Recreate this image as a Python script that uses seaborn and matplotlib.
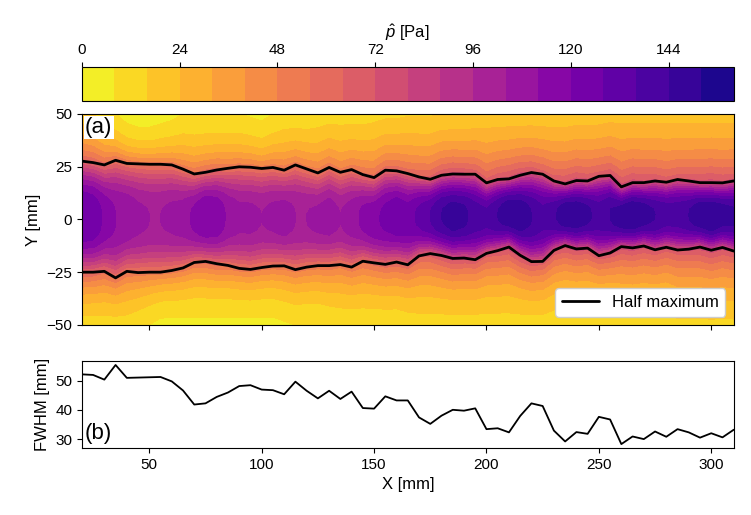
import numpy as np
import pandas as pd
import matplotlib
matplotlib.use("Agg")
import matplotlib.pyplot as plt
import seaborn as sns

sns.set_style("ticks")
plt.rcParams['font.family'] = ['Liberation Sans', 'DejaVu Sans']
plt.rcParams['mathtext.fontset'] = 'custom'
plt.rcParams['mathtext.it'] = 'Liberation Sans:italic'
plt.rcParams['mathtext.rm'] = 'Liberation Sans'
for key in ['text.color', 'axes.labelcolor', 'xtick.color', 'ytick.color', 'axes.edgecolor']:
    plt.rcParams[key] = 'black'

# streamwise stations [mm]
x_mm = np.arange(20, 311, 5)

# half-maximum boundaries of the jet [mm]
upper = [27.6, 26.9, 25.8, 28.0, 26.5, 26.3, 26.1, 26.1, 25.8, 23.8, 21.5, 22.3, 23.4, 24.2, 24.9,
         24.7, 24.1, 24.6, 23.3, 25.8, 23.9, 22.0, 24.6, 22.3, 23.6, 21.2, 19.8, 23.3, 23.0, 21.7,
         20.1, 19.0, 20.9, 21.5, 21.4, 21.4, 17.3, 18.9, 19.2, 20.9, 22.2, 21.4, 18.2, 16.8, 18.4,
         18.2, 20.4, 20.8, 15.4, 17.4, 17.4, 18.2, 17.6, 18.9, 18.2, 17.4, 17.4, 17.3, 18.2]
lower = [-25.0, -25.0, -24.6, -27.7, -24.6, -25.2, -25.0, -25.0, -24.2, -23.0, -20.4, -19.9, -21.0, -21.8, -23.2,
         -23.7, -22.8, -22.1, -22.0, -23.8, -22.6, -21.9, -21.9, -21.4, -22.6, -19.8, -20.6, -21.3, -20.2, -21.5,
         -17.3, -16.2, -17.1, -18.5, -18.3, -19.1, -16.1, -14.8, -13.1, -17.0, -20.0, -19.9, -14.7, -12.4, -14.0,
         -13.6, -17.2, -15.9, -12.9, -13.5, -12.6, -14.4, -13.2, -14.5, -14.1, -13.1, -14.6, -13.3, -15.0]

# full width at half maximum [mm], panel (b)
fwhm = [52.1, 51.9, 50.3, 55.3, 50.9, 51.0, 51.1, 51.2, 49.7, 46.6, 41.8, 42.2, 44.4, 45.9, 48.1,
        48.4, 46.9, 46.7, 45.3, 49.6, 46.5, 43.9, 46.5, 43.7, 46.2, 40.6, 40.4, 44.6, 43.2, 43.2,
        37.4, 35.2, 38.0, 40.0, 39.7, 40.5, 33.4, 33.7, 32.3, 37.9, 42.2, 41.3, 32.9, 29.2, 32.4,
        31.8, 37.6, 36.7, 28.3, 30.9, 30.0, 32.6, 30.8, 33.4, 32.3, 30.5, 32.0, 30.6, 33.2]

# pressure amplitude on the jet axis and at the two walls [Pa]
peak = [128, 126, 118, 112, 110, 106, 104, 104, 106, 108, 114, 120, 118, 110, 106,
        106, 104, 106, 108, 104, 104, 106, 108, 104, 108, 114, 118, 122, 126, 124,
        130, 136, 144, 148, 146, 140, 138, 144, 150, 150, 144, 138, 142, 150, 150,
        146, 140, 144, 150, 152, 148, 144, 140, 140, 144, 150, 152, 148, 146]
edge_top = [18, 16, 12, 8, 5, 4, 4, 5, 6, 8, 8, 8, 8, 8, 8,
            7, 6, 8, 10, 10, 10, 11, 12, 12, 12, 12, 13, 14, 14, 15,
            15, 15, 16, 16, 16, 17, 18, 18, 18, 18, 18, 18, 18, 18, 19,
            19, 19, 20, 20, 20, 20, 20, 20, 20, 20, 20, 20, 20, 20]
edge_bot = [12, 12, 12, 12, 12, 10, 8, 6, 6, 6, 6, 6, 6, 6, 6,
            6, 6, 6, 7, 8, 8, 8, 9, 10, 10, 10, 10, 10, 10, 11,
            12, 12, 12, 12, 12, 12, 12, 12, 12, 12, 12, 12, 11, 10, 10,
            10, 10, 10, 12, 12, 12, 12, 12, 14, 14, 14, 14, 14, 14]

# build the pressure map on the measurement grid
y_mm = np.arange(-50, 50.1, 2.5)
X, Y = np.meshgrid(x_mm, y_mm)
up = np.array(upper)
lo = np.array(lower)
pk = np.array(peak, dtype=float)
centre = (up + lo) / 2
hw = (up - lo) / 2
d = Y - centre
u = np.abs(d) / hw
inner = pk * 2.0 ** (-u ** 3)
edge = np.where(d > 0, edge_top, edge_bot)
wall = np.where(d > 0, 50 - centre, 50 + centre)
t = (np.abs(d) - hw) / (wall - hw)
outer = 0.5 * pk * (edge / (0.5 * pk)) ** t
p_hat = np.where(u <= 1, inner, outer)

df = pd.DataFrame({'x': x_mm, 'upper': upper, 'lower': lower, 'fwhm': fwhm})

fig = plt.figure(figsize=(7.51, 5.15), dpi=100)
ax = fig.add_axes([0.109, 0.369, 0.868, 0.41])
ax2 = fig.add_axes([0.109, 0.130, 0.868, 0.169], sharex=ax)
cax = fig.add_axes([0.109, 0.804, 0.868, 0.066])

levels = np.arange(0, 161, 8)
cf = ax.contourf(X, Y, p_hat, levels=levels, cmap='plasma_r')
sns.lineplot(data=df, x='x', y='upper', color='k', lw=2, label='Half maximum', ax=ax)
sns.lineplot(data=df, x='x', y='lower', color='k', lw=2, ax=ax)
ax.set_xlim(20, 310)
ax.set_ylim(-50, 50)
ax.set_yticks([-50, -25, 0, 25, 50])
ax.set_xlabel('')
ax.set_ylabel('Y [mm]', fontsize=12)
ax.tick_params(labelsize=11, labelbottom=False)
ax.legend(loc='lower right', fontsize=12, handlelength=2.2, framealpha=1, edgecolor='0.8')
ax.text(0.005, 0.985, '(a)', transform=ax.transAxes, fontsize=16, va='top', ha='left',
        bbox=dict(facecolor='white', edgecolor='none', pad=1))

cb = fig.colorbar(cf, cax=cax, orientation='horizontal', ticklocation='top',
                  ticks=levels[::3])
cb.set_label(r'$\hat{p}$ [Pa]', fontsize=12)
cb.ax.tick_params(labelsize=11)

sns.lineplot(data=df, x='x', y='fwhm', color='k', lw=1.3, ax=ax2)
ax2.set_xlabel('X [mm]', fontsize=12)
ax2.set_ylabel('FWHM [mm]', fontsize=12)
ax2.set_xticks([50, 100, 150, 200, 250, 300])
ax2.set_yticks([30, 40, 50])
ax2.tick_params(labelsize=11)
ax2.text(0.005, 0.05, '(b)', transform=ax2.transAxes, fontsize=16, va='bottom', ha='left')

fig.savefig('out.png', dpi=100)
